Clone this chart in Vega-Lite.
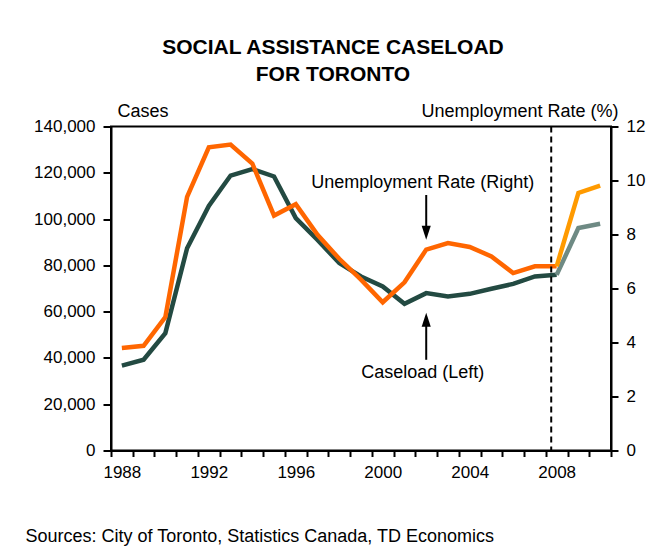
{
  "$schema": "https://vega.github.io/schema/vega-lite/v6.json",
  "width": 500,
  "height": 324,
  "autosize": "none",
  "padding": {"left": 111, "top": 126.5, "right": 52, "bottom": 103.5},
  "background": "white",
  "title": {
    "text": ["SOCIAL ASSISTANCE CASELOAD", "FOR TORONTO"],
    "font": "Liberation Sans",
    "fontSize": 21,
    "fontWeight": "bold",
    "color": "black",
    "anchor": "middle",
    "frame": "group",
    "dx": -28,
    "offset": 18,
    "lineHeight": 27
  },
  "config": {
    "font": "Liberation Sans",
    "view": {"stroke": "black", "strokeWidth": 2},
    "axis": {
      "grid": false,
      "domainColor": "black",
      "domainWidth": 2,
      "tickColor": "black",
      "tickWidth": 2,
      "labelColor": "black",
      "labelFont": "Liberation Sans",
      "labelFontSize": 17,
      "titleColor": "black",
      "titleFont": "Liberation Sans",
      "titleFontWeight": "normal",
      "titleFontSize": 18
    }
  },
  "datasets": {
    "series": [
      {"year": 1988, "cases": 36700, "rate": 3.80, "period": "Actual"},
      {"year": 1989, "cases": 39200, "rate": 3.88, "period": "Actual"},
      {"year": 1990, "cases": 50700, "rate": 4.94, "period": "Actual"},
      {"year": 1991, "cases": 87400, "rate": 9.39, "period": "Actual"},
      {"year": 1992, "cases": 105700, "rate": 11.23, "period": "Actual"},
      {"year": 1993, "cases": 118800, "rate": 11.33, "period": "Actual"},
      {"year": 1994, "cases": 121600, "rate": 10.63, "period": "Actual"},
      {"year": 1995, "cases": 118400, "rate": 8.70, "period": "Actual"},
      {"year": 1996, "cases": 100400, "rate": 9.12, "period": "Actual"},
      {"year": 1997, "cases": 91000, "rate": 7.99, "period": "Actual"},
      {"year": 1998, "cases": 81000, "rate": 7.10, "period": "Actual"},
      {"year": 1999, "cases": 75200, "rate": 6.33, "period": "Actual"},
      {"year": 2000, "cases": 70900, "rate": 5.49, "period": "Actual"},
      {"year": 2001, "cases": 63400, "rate": 6.23, "period": "Actual"},
      {"year": 2002, "cases": 68000, "rate": 7.44, "period": "Actual"},
      {"year": 2003, "cases": 66600, "rate": 7.68, "period": "Actual"},
      {"year": 2004, "cases": 67700, "rate": 7.54, "period": "Actual"},
      {"year": 2005, "cases": 69900, "rate": 7.19, "period": "Actual"},
      {"year": 2006, "cases": 72000, "rate": 6.57, "period": "Actual"},
      {"year": 2007, "cases": 75200, "rate": 6.82, "period": "Actual"},
      {"year": 2008, "cases": 75900, "rate": 6.82, "period": "Actual"},
      {"year": 2008, "cases": 75900, "rate": 6.82, "period": "Forecast"},
      {"year": 2009, "cases": 96100, "rate": 9.54, "period": "Forecast"},
      {"year": 2010, "cases": 98000, "rate": 9.81, "period": "Forecast"}
    ],
    "notes": [
      {"year": 2002, "cases": 113300, "label": "Unemployment Rate (Right)"},
      {"year": 2002, "cases": 31300, "label": "Caseload (Left)"}
    ],
    "arrows": [
      {"year": 2002, "cases": 110400, "cases_end": 96700},
      {"year": 2002, "cases": 39200, "cases_end": 53900}
    ],
    "heads": [
      {"year": 2002, "cases": 94100, "dir": "down"},
      {"year": 2002, "cases": 56500, "dir": "up"}
    ],
    "marker": [{"year": 2008}]
  },
  "encoding": {
    "x": {
      "field": "year",
      "type": "ordinal",
      "scale": {"type": "band", "paddingInner": 0, "paddingOuter": 0},
      "axis": {
        "orient": "bottom",
        "tickBand": "extent",
        "tickSize": 6,
        "labelPadding": 8,
        "labelAngle": 0,
        "labelOverlap": false,
        "labelExpr": "datum.value % 4 == 0 ? datum.label : ''",
        "title": "Sources: City of Toronto, Statistics Canada, TD Economics",
        "titleX": -86,
        "titleY": 91,
        "titleAlign": "left",
        "titleBaseline": "alphabetic",
        "titleAngle": 0
      }
    }
  },
  "resolve": {"scale": {"y": "independent"}},
  "layer": [
    {
      "encoding": {
        "y": {
          "field": "cases",
          "type": "quantitative",
          "scale": {"domain": [0, 140000], "nice": false, "zero": true},
          "axis": {
            "orient": "left",
            "values": [0, 20000, 40000, 60000, 80000, 100000, 120000, 140000],
            "labelExpr": "format(datum.value, ',')",
            "tickSize": 8,
            "labelPadding": 8,
            "title": "Cases",
            "titleAngle": 0,
            "titleAlign": "left",
            "titleBaseline": "alphabetic",
            "titleX": 6,
            "titleY": -10
          }
        }
      },
      "layer": [
        {
          "data": {"name": "series"},
          "transform": [{"filter": "datum.period == 'Actual'"}],
          "mark": {"type": "line", "color": "#234A42", "strokeWidth": 4.5, "strokeJoin": "miter", "strokeCap": "butt"}
        },
        {
          "data": {"name": "series"},
          "transform": [{"filter": "datum.period == 'Forecast'"}],
          "mark": {"type": "line", "color": "#6E8A84", "strokeWidth": 4.5, "strokeJoin": "miter", "strokeCap": "butt"}
        },
        {
          "data": {"name": "notes"},
          "mark": {"type": "text", "fontSize": 18, "color": "black", "align": "center", "baseline": "alphabetic", "dx": -3.5},
          "encoding": {"text": {"field": "label"}}
        },
        {
          "data": {"name": "arrows"},
          "mark": {"type": "rule", "color": "black", "strokeWidth": 2},
          "encoding": {"y2": {"field": "cases_end"}}
        },
        {
          "data": {"name": "heads"},
          "mark": {"type": "point", "filled": true, "color": "black", "opacity": 1, "size": 196, "strokeWidth": 0},
          "encoding": {
            "shape": {
              "field": "dir",
              "type": "nominal",
              "scale": {"domain": ["down", "up"], "range": ["M-0.65,-1L0.65,-1L0,1Z", "M-0.65,1L0.65,1L0,-1Z"]},
              "legend": null
            }
          }
        }
      ]
    },
    {
      "data": {"name": "series"},
      "encoding": {
        "y": {
          "field": "rate",
          "type": "quantitative",
          "scale": {"domain": [0, 12], "nice": false, "zero": true},
          "axis": {
            "orient": "right",
            "values": [0, 2, 4, 6, 8, 10, 12],
            "tickSize": 7,
            "labelPadding": 8,
            "title": "Unemployment Rate (%)",
            "titleAngle": 0,
            "titleAlign": "right",
            "titleBaseline": "alphabetic",
            "titleX": 7,
            "titleY": -10
          }
        }
      },
      "layer": [
        {
          "transform": [{"filter": "datum.period == 'Actual'"}],
          "mark": {"type": "line", "color": "#FF6600", "strokeWidth": 4.5, "strokeJoin": "miter", "strokeCap": "butt"}
        },
        {
          "transform": [{"filter": "datum.period == 'Forecast'"}],
          "mark": {"type": "line", "color": "#FF9A00", "strokeWidth": 4.5, "strokeJoin": "miter", "strokeCap": "butt"}
        }
      ]
    },
    {
      "data": {"name": "marker"},
      "mark": {"type": "rule", "color": "black", "strokeWidth": 2, "strokeDash": [6, 4]},
      "encoding": {
        "x": {"field": "year", "type": "ordinal", "bandPosition": 0.25}
      }
    }
  ]
}
